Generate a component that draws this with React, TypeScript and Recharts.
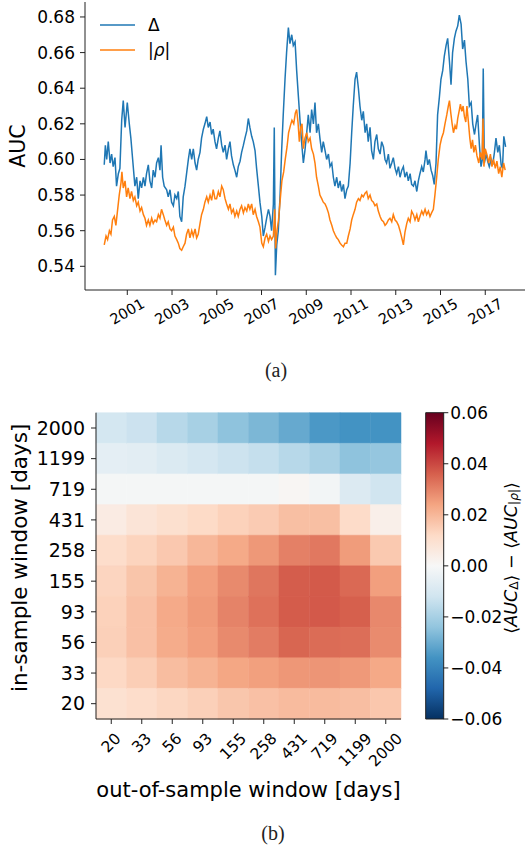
import React from "react";
import { LineChart, Line, XAxis, YAxis, Legend, BarChart, Bar, Cell } from "recharts";

const SANS = "'DejaVu Sans', Verdana, sans-serif";
const SERIF = "'Liberation Serif', 'DejaVu Serif', serif";
const INK = "#000";
const SPINE = "#222";

// (a) rolling AUC of the two predictors, as [decimal year, AUC]
const deltaSeries: [number, number][] = [
  [1999.97, 0.597], [2000.02, 0.608], [2000.08, 0.6], [2000.15, 0.61], [2000.23, 0.598], [2000.3, 0.603],
  [2000.37, 0.596], [2000.45, 0.601], [2000.52, 0.585], [2000.6, 0.592], [2000.67, 0.595], [2000.75, 0.622],
  [2000.82, 0.633], [2000.9, 0.618], [2001.0, 0.632], [2001.09, 0.62], [2001.16, 0.612], [2001.24, 0.6],
  [2001.34, 0.585], [2001.42, 0.59], [2001.49, 0.578], [2001.57, 0.588], [2001.64, 0.584], [2001.72, 0.59],
  [2001.79, 0.585], [2001.86, 0.592], [2001.94, 0.597], [2002.01, 0.588], [2002.09, 0.584], [2002.16, 0.594],
  [2002.24, 0.59], [2002.31, 0.598], [2002.39, 0.601], [2002.46, 0.594], [2002.51, 0.608], [2002.58, 0.59],
  [2002.65, 0.585], [2002.76, 0.583], [2002.83, 0.579], [2002.91, 0.583], [2002.98, 0.576], [2003.06, 0.574],
  [2003.13, 0.58], [2003.21, 0.578], [2003.28, 0.582], [2003.35, 0.568], [2003.43, 0.565], [2003.5, 0.579],
  [2003.58, 0.585], [2003.65, 0.592], [2003.73, 0.6], [2003.8, 0.606], [2003.88, 0.6], [2003.95, 0.606],
  [2004.03, 0.598], [2004.1, 0.594], [2004.17, 0.6], [2004.25, 0.604], [2004.32, 0.612], [2004.4, 0.617],
  [2004.47, 0.62], [2004.55, 0.624], [2004.62, 0.618], [2004.7, 0.621], [2004.77, 0.614], [2004.84, 0.617],
  [2004.92, 0.61], [2004.99, 0.606], [2005.07, 0.612], [2005.14, 0.616], [2005.22, 0.608], [2005.29, 0.604],
  [2005.37, 0.608], [2005.44, 0.6], [2005.52, 0.606], [2005.59, 0.61], [2005.66, 0.602], [2005.74, 0.597],
  [2005.81, 0.594], [2005.89, 0.59], [2005.96, 0.596], [2006.04, 0.599], [2006.11, 0.604], [2006.19, 0.608],
  [2006.26, 0.612], [2006.34, 0.616], [2006.41, 0.623], [2006.48, 0.618], [2006.56, 0.613], [2006.63, 0.61],
  [2006.71, 0.605], [2006.78, 0.595], [2006.86, 0.585], [2006.93, 0.576], [2007.01, 0.568], [2007.08, 0.557],
  [2007.16, 0.562], [2007.23, 0.567], [2007.31, 0.572], [2007.38, 0.568], [2007.45, 0.56], [2007.53, 0.575],
  [2007.57, 0.618], [2007.62, 0.535], [2007.68, 0.552], [2007.75, 0.56], [2007.83, 0.58], [2007.9, 0.605],
  [2007.97, 0.625], [2008.05, 0.645], [2008.12, 0.66], [2008.2, 0.674], [2008.27, 0.665], [2008.35, 0.67],
  [2008.42, 0.664], [2008.5, 0.666], [2008.57, 0.65], [2008.65, 0.635], [2008.72, 0.622], [2008.79, 0.61],
  [2008.87, 0.598], [2008.94, 0.605], [2009.02, 0.615], [2009.09, 0.625], [2009.17, 0.615], [2009.24, 0.628],
  [2009.32, 0.62], [2009.39, 0.632], [2009.46, 0.615], [2009.54, 0.62], [2009.61, 0.612], [2009.69, 0.604],
  [2009.76, 0.61], [2009.84, 0.605], [2009.91, 0.6], [2009.99, 0.603], [2010.06, 0.596], [2010.14, 0.598],
  [2010.21, 0.59], [2010.28, 0.585], [2010.36, 0.59], [2010.43, 0.584], [2010.51, 0.588], [2010.58, 0.582],
  [2010.66, 0.586], [2010.73, 0.578], [2010.81, 0.583], [2010.88, 0.585], [2010.96, 0.598], [2011.03, 0.615],
  [2011.1, 0.63], [2011.18, 0.645], [2011.25, 0.649], [2011.33, 0.64], [2011.4, 0.63], [2011.48, 0.622],
  [2011.55, 0.627], [2011.63, 0.615], [2011.7, 0.62], [2011.77, 0.61], [2011.85, 0.618], [2011.92, 0.605],
  [2012.0, 0.6], [2012.07, 0.61], [2012.15, 0.614], [2012.22, 0.606], [2012.3, 0.603], [2012.37, 0.61],
  [2012.45, 0.607], [2012.52, 0.6], [2012.59, 0.598], [2012.67, 0.603], [2012.74, 0.595], [2012.82, 0.598],
  [2012.89, 0.601], [2012.97, 0.595], [2013.04, 0.592], [2013.12, 0.596], [2013.19, 0.59], [2013.27, 0.594],
  [2013.34, 0.596], [2013.41, 0.59], [2013.49, 0.593], [2013.56, 0.588], [2013.64, 0.592], [2013.71, 0.586],
  [2013.79, 0.585], [2013.86, 0.588], [2013.94, 0.582], [2014.01, 0.588], [2014.08, 0.592], [2014.16, 0.596],
  [2014.23, 0.593], [2014.31, 0.6], [2014.35, 0.605], [2014.43, 0.597], [2014.5, 0.6], [2014.58, 0.594],
  [2014.65, 0.591], [2014.72, 0.586], [2014.8, 0.598], [2014.87, 0.625], [2014.95, 0.635], [2015.02, 0.645],
  [2015.1, 0.65], [2015.17, 0.658], [2015.25, 0.664], [2015.32, 0.668], [2015.4, 0.655], [2015.47, 0.642],
  [2015.54, 0.66], [2015.62, 0.668], [2015.69, 0.672], [2015.77, 0.675], [2015.84, 0.681], [2015.92, 0.676],
  [2015.99, 0.662], [2016.07, 0.667], [2016.14, 0.655], [2016.22, 0.645], [2016.29, 0.63], [2016.37, 0.632],
  [2016.44, 0.62], [2016.52, 0.614], [2016.59, 0.62], [2016.66, 0.625], [2016.74, 0.608], [2016.81, 0.596],
  [2016.87, 0.6], [2016.91, 0.651], [2016.96, 0.598], [2017.04, 0.603], [2017.11, 0.599], [2017.18, 0.596],
  [2017.26, 0.6], [2017.33, 0.597], [2017.41, 0.604], [2017.48, 0.612], [2017.56, 0.604], [2017.63, 0.608],
  [2017.71, 0.597], [2017.77, 0.595], [2017.83, 0.613], [2017.91, 0.607],
];

const rhoSeries: [number, number][] = [
  [1999.97, 0.552], [2000.05, 0.557], [2000.12, 0.555], [2000.2, 0.56], [2000.27, 0.558], [2000.34, 0.566],
  [2000.42, 0.568], [2000.49, 0.563], [2000.57, 0.572], [2000.64, 0.58], [2000.72, 0.587], [2000.76, 0.593],
  [2000.82, 0.584], [2000.9, 0.588], [2000.97, 0.579], [2001.04, 0.584], [2001.12, 0.578], [2001.19, 0.582],
  [2001.27, 0.577], [2001.34, 0.579], [2001.42, 0.574], [2001.49, 0.576], [2001.57, 0.571], [2001.64, 0.573],
  [2001.72, 0.569], [2001.79, 0.567], [2001.86, 0.563], [2001.94, 0.566], [2002.01, 0.563], [2002.09, 0.567],
  [2002.16, 0.564], [2002.24, 0.566], [2002.31, 0.565], [2002.39, 0.569], [2002.46, 0.567], [2002.53, 0.572],
  [2002.61, 0.569], [2002.68, 0.566], [2002.76, 0.563], [2002.83, 0.565], [2002.91, 0.561], [2002.98, 0.56],
  [2003.06, 0.562], [2003.13, 0.557], [2003.21, 0.555], [2003.28, 0.553], [2003.35, 0.55], [2003.43, 0.549],
  [2003.5, 0.551], [2003.58, 0.553], [2003.65, 0.558], [2003.73, 0.561], [2003.8, 0.556], [2003.88, 0.56],
  [2003.95, 0.557], [2004.03, 0.561], [2004.1, 0.556], [2004.17, 0.558], [2004.25, 0.564], [2004.32, 0.569],
  [2004.4, 0.572], [2004.47, 0.576], [2004.55, 0.579], [2004.62, 0.576], [2004.7, 0.58], [2004.77, 0.577],
  [2004.84, 0.583], [2004.92, 0.578], [2004.99, 0.578], [2005.07, 0.582], [2005.14, 0.579], [2005.22, 0.585],
  [2005.29, 0.583], [2005.37, 0.578], [2005.44, 0.575], [2005.52, 0.572], [2005.59, 0.575], [2005.66, 0.57],
  [2005.74, 0.572], [2005.81, 0.568], [2005.89, 0.571], [2005.96, 0.568], [2006.04, 0.572], [2006.11, 0.574],
  [2006.19, 0.57], [2006.26, 0.573], [2006.34, 0.571], [2006.41, 0.575], [2006.48, 0.572], [2006.56, 0.575],
  [2006.63, 0.569], [2006.71, 0.572], [2006.78, 0.568], [2006.86, 0.565], [2006.93, 0.562], [2007.01, 0.553],
  [2007.08, 0.551], [2007.16, 0.556], [2007.23, 0.558], [2007.31, 0.554], [2007.38, 0.557], [2007.45, 0.555],
  [2007.53, 0.557], [2007.59, 0.572], [2007.63, 0.55], [2007.69, 0.56], [2007.76, 0.566], [2007.84, 0.578],
  [2007.91, 0.588], [2007.99, 0.593], [2008.06, 0.6], [2008.14, 0.607], [2008.21, 0.615], [2008.29, 0.619],
  [2008.36, 0.622], [2008.44, 0.62], [2008.51, 0.626], [2008.57, 0.628], [2008.63, 0.621], [2008.69, 0.61],
  [2008.75, 0.618], [2008.81, 0.62], [2008.87, 0.606], [2008.94, 0.612], [2009.02, 0.615], [2009.09, 0.61],
  [2009.17, 0.612], [2009.24, 0.606], [2009.32, 0.603], [2009.39, 0.598], [2009.46, 0.59], [2009.54, 0.585],
  [2009.61, 0.58], [2009.69, 0.578], [2009.76, 0.576], [2009.84, 0.575], [2009.91, 0.573], [2009.99, 0.57],
  [2010.06, 0.566], [2010.14, 0.563], [2010.21, 0.56], [2010.28, 0.558], [2010.36, 0.556], [2010.43, 0.555],
  [2010.51, 0.553], [2010.58, 0.552], [2010.66, 0.551], [2010.73, 0.553], [2010.81, 0.553], [2010.88, 0.557],
  [2010.96, 0.561], [2011.03, 0.566], [2011.1, 0.569], [2011.18, 0.572], [2011.25, 0.576], [2011.33, 0.578],
  [2011.4, 0.577], [2011.48, 0.58], [2011.55, 0.579], [2011.63, 0.581], [2011.7, 0.582], [2011.77, 0.578],
  [2011.85, 0.58], [2011.92, 0.577], [2012.0, 0.576], [2012.07, 0.574], [2012.15, 0.575], [2012.22, 0.571],
  [2012.3, 0.568], [2012.37, 0.566], [2012.45, 0.565], [2012.52, 0.563], [2012.59, 0.564], [2012.67, 0.566],
  [2012.74, 0.567], [2012.82, 0.565], [2012.89, 0.569], [2012.97, 0.566], [2013.04, 0.565], [2013.12, 0.563],
  [2013.19, 0.56], [2013.27, 0.556], [2013.34, 0.552], [2013.41, 0.559], [2013.49, 0.564], [2013.56, 0.567],
  [2013.64, 0.565], [2013.71, 0.571], [2013.79, 0.569], [2013.86, 0.566], [2013.94, 0.569], [2014.01, 0.565],
  [2014.08, 0.568], [2014.16, 0.571], [2014.23, 0.569], [2014.31, 0.572], [2014.38, 0.569], [2014.46, 0.571],
  [2014.53, 0.568], [2014.6, 0.57], [2014.68, 0.572], [2014.75, 0.58], [2014.83, 0.59], [2014.9, 0.6],
  [2014.98, 0.608], [2015.05, 0.612], [2015.13, 0.615], [2015.2, 0.62], [2015.28, 0.625], [2015.35, 0.63],
  [2015.4, 0.633], [2015.46, 0.626], [2015.52, 0.62], [2015.58, 0.615], [2015.65, 0.619], [2015.71, 0.617],
  [2015.77, 0.623], [2015.83, 0.627], [2015.89, 0.631], [2015.95, 0.627], [2016.01, 0.63], [2016.07, 0.624],
  [2016.13, 0.621], [2016.18, 0.63], [2016.24, 0.622], [2016.31, 0.612], [2016.37, 0.606], [2016.43, 0.611],
  [2016.49, 0.604], [2016.56, 0.608], [2016.63, 0.602], [2016.71, 0.598], [2016.78, 0.604], [2016.86, 0.6],
  [2016.9, 0.623], [2016.94, 0.596], [2017.0, 0.606], [2017.09, 0.602], [2017.15, 0.598], [2017.23, 0.603],
  [2017.3, 0.596], [2017.37, 0.6], [2017.45, 0.595], [2017.52, 0.599], [2017.6, 0.592], [2017.67, 0.596],
  [2017.74, 0.59], [2017.82, 0.598], [2017.89, 0.594],
];

const seriesNames = ["Δ", "|ρ|"];
const yearTicks = [2001, 2003, 2005, 2007, 2009, 2011, 2013, 2015, 2017];
const aucTicks = [0.54, 0.56, 0.58, 0.6, 0.62, 0.64, 0.66, 0.68];

// (b) <AUC_Δ> − <AUC_|ρ|>; rows = in-sample window (top to bottom), columns = out-of-sample window
const inSampleWindows = ["2000", "1199", "719", "431", "258", "155", "93", "56", "33", "20"];
const outSampleWindows = ["20", "33", "56", "93", "155", "258", "431", "719", "1199", "2000"];
const aucDiff = [
  [-0.011, -0.013, -0.017, -0.02, -0.0245, -0.0274, -0.0307, -0.0348, -0.036, -0.036],
  [-0.006, -0.0067, -0.0087, -0.0107, -0.0128, -0.0142, -0.0169, -0.0199, -0.0245, -0.0235],
  [-0.001, -0.001, -0.001, -0.001, -0.001, -0.001, 0.001, -0.0015, -0.0085, -0.012],
  [0.005, 0.008, 0.0099, 0.012, 0.014, 0.0155, 0.0183, 0.0183, 0.0115, 0.0035],
  [0.011, 0.0136, 0.0162, 0.02, 0.023, 0.0263, 0.0304, 0.0318, 0.0256, 0.016],
  [0.0133, 0.017, 0.021, 0.025, 0.0287, 0.0322, 0.0365, 0.037, 0.0345, 0.025],
  [0.014, 0.018, 0.0228, 0.0258, 0.0299, 0.033, 0.0366, 0.0371, 0.036, 0.029],
  [0.0145, 0.018, 0.0224, 0.025, 0.0287, 0.0311, 0.035, 0.034, 0.0336, 0.0285],
  [0.0124, 0.015, 0.0187, 0.021, 0.0236, 0.0249, 0.0265, 0.0268, 0.026, 0.0232],
  [0.0095, 0.011, 0.0128, 0.0144, 0.0167, 0.018, 0.0192, 0.0192, 0.0185, 0.0165],
];
const colorbarTicks = [-0.06, -0.04, -0.02, 0, 0.02, 0.04, 0.06];

// RdBu_r anchors, evenly spaced over the colour range
const rdbuR = [
  "#053061", "#2166ac", "#4393c3", "#92c5de", "#d1e5f0", "#f7f7f7",
  "#fddbc7", "#f4a582", "#d6604d", "#b2182b", "#67001f",
];
const vmin = colorbarTicks[0];
const vmax = colorbarTicks[colorbarTicks.length - 1];

const rgb = (h: string) => [1, 3, 5].map((i) => parseInt(h.slice(i, i + 2), 16));

function cmap(v: number) {
  const t = Math.min(1, Math.max(0, (v - vmin) / (vmax - vmin))) * (rdbuR.length - 1);
  const i = Math.min(rdbuR.length - 2, Math.floor(t));
  const f = t - i;
  const a = rgb(rdbuR[i]);
  const b = rgb(rdbuR[i + 1]);
  const c = a.map((x, k) => Math.round(x + (b[k] - x) * f));
  return `rgb(${c[0]},${c[1]},${c[2]})`;
}

const signed = (v: number) => (v < 0 ? "\u2212" : "") + Math.abs(v).toFixed(2);

function VerticalTitle({ viewBox, dx = 0, dy = 0, size, caption }: any) {
  const cx = viewBox.x + dx;
  const cy = viewBox.y + viewBox.height / 2 + dy;
  return (
    <text x={cx} y={cy} transform={`rotate(-90 ${cx} ${cy})`} textAnchor="middle" dominantBaseline="central"
      fontSize={size} fontFamily={SANS} fill={INK}>
      {caption}
    </text>
  );
}

function HorizontalTitle({ viewBox, dy = 0, size, caption }: any) {
  return (
    <text x={viewBox.x + viewBox.width / 2} y={viewBox.y + dy} textAnchor="middle" dominantBaseline="central"
      fontSize={size} fontFamily={SANS} fill={INK}>
      {caption}
    </text>
  );
}

function YearTick({ x, y, payload }: any) {
  const cy = y + 14.5;
  return (
    <text x={x} y={cy} transform={`rotate(-30 ${x} ${cy})`} textAnchor="middle" dominantBaseline="central"
      fontSize={14.5} fontFamily={SANS} fill={INK}>
      {payload.value}
    </text>
  );
}

function WindowTick({ x, y, payload }: any) {
  const label = outSampleWindows[Math.floor(payload.value)];
  const cy = y + 10 + 3.5 * label.length;
  return (
    <text x={x} y={cy} transform={`rotate(-45 ${x} ${cy})`} textAnchor="middle" dominantBaseline="central"
      fontSize={15.5} fontFamily={SANS} fill={INK}>
      {label}
    </text>
  );
}

// greek letters in legend names are set in italics, like TeX math
const mathName = (s: string) =>
  s.split(/([α-ω])/).map((part, i) => (/[α-ω]/.test(part) ? <i key={i}>{part}</i> : part));

function LegendBox({ payload }: any) {
  const items = [...(payload ?? [])].sort(
    (a: any, b: any) => seriesNames.indexOf(a.value) - seriesNames.indexOf(b.value)
  );
  return (
    <div style={{ fontFamily: SANS, fontSize: 17, color: INK }}>
      {items.map((p: any) => (
        <div key={p.value} style={{ display: "flex", alignItems: "center", height: 25 }}>
          <svg width={35} height={4}>
            <line x1={0} x2={35} y1={2} y2={2} stroke={p.color} strokeWidth={1.6} />
          </svg>
          <span style={{ marginLeft: 13 }}>{mathName(p.value)}</span>
        </div>
      ))}
    </div>
  );
}

function AucPanel() {
  const delta = deltaSeries.map(([t, v]) => ({ t, v }));
  const rho = rhoSeries.map(([t, v]) => ({ t, v }));
  const xDomain = [1999.11, 2019];
  return (
    <LineChart width={545} height={340} margin={{ top: 2, right: 15, bottom: 10, left: 0 }}>
      <XAxis xAxisId="top" orientation="top" type="number" dataKey="t" domain={xDomain} tick={false}
        tickLine={false} height={0} stroke={SPINE} allowDataOverflow />
      <XAxis type="number" dataKey="t" domain={xDomain} ticks={yearTicks} interval={0} tick={<YearTick />}
        tickSize={5} height={40} stroke={SPINE} allowDataOverflow />
      <YAxis type="number" domain={[0.5267, 0.6884]} ticks={aucTicks} interval={0} tickFormatter={(v) => v.toFixed(2)}
        width={85} tickSize={5} tickMargin={5} tick={{ fontSize: 17, fill: INK, fontFamily: SANS }} stroke={SPINE}
        allowDataOverflow label={<VerticalTitle dx={18} size={20.5} caption="AUC" />} />
      <Legend layout="vertical" verticalAlign="middle" align="center" content={<LegendBox />}
        wrapperStyle={{ top: 12, left: 100, width: "auto", height: "auto" }} />
      <Line data={delta} dataKey="v" name={seriesNames[0]} stroke="#1f77b4" strokeWidth={1.5} dot={false}
        isAnimationActive={false} />
      <Line data={rho} dataKey="v" name={seriesNames[1]} stroke="#ff7f0e" strokeWidth={1.5} dot={false}
        isAnimationActive={false} />
    </LineChart>
  );
}

function GapHeatmap() {
  const rows = inSampleWindows.map((w) => {
    const row: Record<string, string | number> = { window: w };
    outSampleWindows.forEach((_, c) => (row[`c${c}`] = 1));
    return row;
  });
  const colTicks = outSampleWindows.map((_, i) => i + 0.5);
  return (
    <BarChart width={410} height={420} data={rows} layout="vertical" barCategoryGap={0} barGap={0}
      margin={{ top: 12.7, right: 9, bottom: 1, left: 0 }}>
      <XAxis type="number" domain={[0, outSampleWindows.length]} ticks={colTicks} interval={0} tick={<WindowTick />}
        tickSize={5} height={100} stroke={SPINE}
        label={<HorizontalTitle dy={71} size={21} caption="out-of-sample window [days]" />} />
      <XAxis xAxisId="top" orientation="top" type="number" domain={[0, outSampleWindows.length]} tick={false}
        tickLine={false} height={0} stroke={SPINE} />
      <YAxis type="category" dataKey="window" width={96} interval={0} tickSize={5} tickMargin={6}
        tick={{ fontSize: 19, fill: INK, fontFamily: SANS }} stroke={SPINE}
        label={<VerticalTitle dx={20} dy={-8} size={21.5} caption="in-sample window [days]" />} />
      <YAxis yAxisId="right" orientation="right" type="number" domain={[0, 1]} tick={false} tickLine={false}
        width={0} stroke={SPINE} />
      {outSampleWindows.map((_, c) => (
        <Bar key={c} dataKey={`c${c}`} stackId="grid" isAnimationActive={false}>
          {aucDiff.map((row, r) => (
            <Cell key={r} fill={cmap(row[c])} stroke={cmap(row[c])} strokeWidth={0.5} />
          ))}
        </Bar>
      ))}
    </BarChart>
  );
}

function Colorbar() {
  const data = [{ name: "scale", span: [vmin, vmax] }];
  const title = (
    <>
      <tspan>⟨</tspan>
      <tspan fontStyle="italic">AUC</tspan>
      <tspan fontSize="0.7em" dy={3.5}>Δ</tspan>
      <tspan dy={-3.5}>⟩ − ⟨</tspan>
      <tspan fontStyle="italic">AUC</tspan>
      <tspan fontSize="0.7em" dy={3.5}>|<tspan fontStyle="italic">ρ</tspan>|</tspan>
      <tspan dy={-3.5}>⟩</tspan>
    </>
  );
  return (
    <BarChart width={145} height={330} data={data} barCategoryGap={0}
      margin={{ top: 12.7, right: 1.7, bottom: 11, left: 45.7 }}>
      <defs>
        <linearGradient id="rdbuR" x1="0" y1="1" x2="0" y2="0">
          {rdbuR.map((c, i) => (
            <stop key={c} offset={i / (rdbuR.length - 1)} stopColor={c} />
          ))}
        </linearGradient>
      </defs>
      <XAxis dataKey="name" hide />
      <YAxis orientation="right" type="number" domain={[vmin, vmax]} ticks={colorbarTicks} interval={0}
        tickFormatter={signed} width={80} tickSize={5} tickMargin={2} axisLine={false} stroke={SPINE}
        tick={{ fontSize: 17, fill: INK, fontFamily: SANS }}
        label={<VerticalTitle dx={67.5} dy={-8} size={17.5} caption={title} />} />
      <Bar dataKey="span" fill="url(#rdbuR)" stroke={SPINE} strokeWidth={1} isAnimationActive={false} />
    </BarChart>
  );
}

const captionStyle: React.CSSProperties = {
  position: "absolute", width: 60, textAlign: "center", fontFamily: SERIF, fontSize: 20, lineHeight: "20px", color: "#222",
};

export default function App() {
  return (
    <div style={{ position: "relative", width: 525, height: 850, overflow: "hidden", background: "#fff" }}>
      <style>{"body{margin:0}"}</style>
      <div style={{ position: "absolute", left: 0, top: 0 }}>
        <AucPanel />
      </div>
      <div style={{ ...captionStyle, left: 246, top: 360 }}>(a)</div>
      <div style={{ position: "absolute", left: 0, top: 400 }}>
        <GapHeatmap />
      </div>
      <div style={{ position: "absolute", left: 380, top: 400 }}>
        <Colorbar />
      </div>
      <div style={{ ...captionStyle, left: 243, top: 823 }}>(b)</div>
    </div>
  );
}
